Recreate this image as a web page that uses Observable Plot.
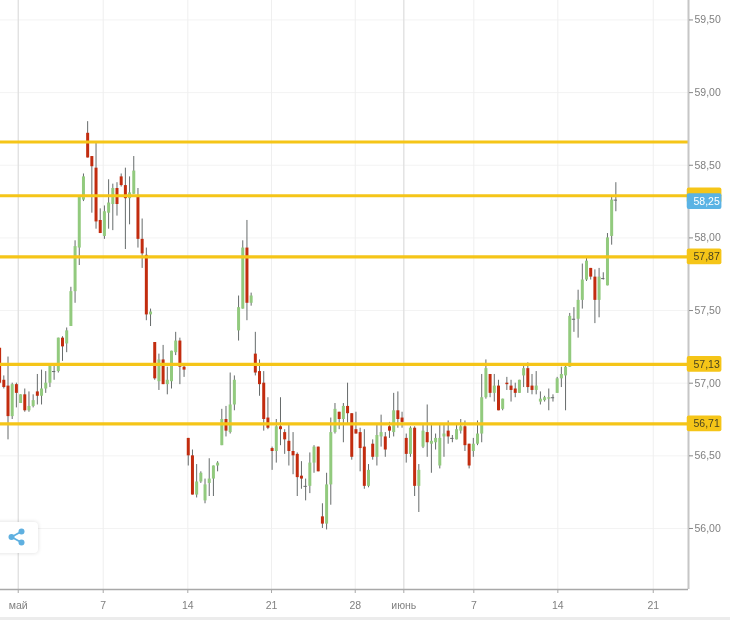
<!DOCTYPE html>
<html>
<head>
<meta charset="utf-8">
<script src="https://cdn.jsdelivr.net/npm/d3@7"></script>
<script src="https://cdn.jsdelivr.net/npm/@observablehq/plot@0.6"></script>
<style>
html,body{margin:0;padding:0;background:#fff;width:730px;height:620px;overflow:hidden;font-family:"Liberation Sans",Arial,sans-serif}
#wrap{position:relative;width:730px;height:620px}
#wrap svg.plot{display:block}
#strip{height:3px;background:#ececec}
#share{position:absolute;left:-6px;top:522px;width:44px;height:31px;background:#fff;border-radius:4px;box-shadow:0 0 4px rgba(0,0,0,.14)}
#share svg{position:absolute;left:13px;top:5px}
#chart{filter:blur(.3px)}
</style>
</head>
<body>
<div id="wrap"><div id="chart"></div><div id="strip"></div>
<div id="share"><svg width="20" height="20" viewBox="0 0 20 20"><g fill="#5fb0e0" stroke="#5fb0e0"><circle cx="4.5" cy="10" r="3" stroke="none"/><circle cx="14.5" cy="4.5" r="3" stroke="none"/><circle cx="14.5" cy="15.5" r="3" stroke="none"/><path d="M4.5 10L14.5 4.5M4.5 10L14.5 15.5" stroke-width="1.8" fill="none"/></g></svg></div>
</div>
<script>
const open = [57.24,57.02,56.98,56.77,56.99,56.86,56.92,56.81,56.84,56.94,56.91,56.96,57.00,57.08,57.08,57.31,57.27,57.39,57.63,57.93,58.26,58.72,58.56,58.48,58.12,58.01,58.17,58.23,58.34,58.42,58.36,58.27,58.30,58.29,57.99,57.88,57.47,57.28,57.01,57.16,56.99,
57.01,57.21,57.29,57.11,56.62,56.50,56.23,56.32,56.19,56.31,56.34,56.43,56.57,56.75,56.66,56.85,57.36,57.51,57.93,57.55,57.20,57.08,57.00,56.76,56.55,56.53,56.70,56.66,56.60,56.53,56.51,56.36,56.29,56.29,56.45,56.56,56.08,56.03,56.30,56.66,56.80,
56.75,56.84,56.79,56.68,56.66,56.56,56.29,56.58,56.49,56.63,56.63,56.70,56.66,56.81,56.76,56.62,56.51,56.69,56.29,56.56,56.66,56.58,56.59,56.43,56.63,56.67,56.62,56.61,56.67,56.70,56.58,56.53,56.58,56.65,56.90,
57.06,56.93,56.98,56.82,57.00,56.98,56.96,56.93,57.05,57.10,56.98,56.95,56.87,56.88,56.89,56.90,56.93,57.03,57.05,57.11,57.44,57.44,57.57,57.71,57.79,57.73,57.57,57.72,57.67,58.01,58.26];
const high = [57.24,57.05,57.18,57.00,57.00,56.92,56.96,56.94,56.92,57.06,57.09,57.08,57.13,57.12,57.31,57.32,57.38,57.66,57.98,58.28,58.44,58.80,58.56,58.65,58.20,58.22,58.40,58.37,58.38,58.44,58.48,58.42,58.56,58.34,58.13,57.93,57.51,57.28,57.20,57.26,57.11,
57.22,57.35,57.31,57.13,56.62,56.54,56.44,56.39,56.34,56.48,56.43,56.46,56.82,56.84,57.07,57.05,57.60,57.98,58.12,57.62,57.35,57.16,57.08,56.90,56.56,56.75,56.90,56.68,56.71,56.66,56.52,56.46,56.34,56.52,56.57,56.56,56.17,56.38,56.76,56.86,56.80,
56.86,57.00,56.79,56.80,56.69,56.68,56.44,56.61,56.71,56.78,56.66,56.73,56.93,56.94,56.80,56.65,56.70,56.70,56.44,56.71,56.85,56.71,56.65,56.72,56.72,56.74,56.64,56.72,56.75,56.74,56.58,56.62,56.74,57.06,57.16,
57.06,57.06,57.02,56.89,57.04,57.02,57.00,57.02,57.13,57.14,57.06,57.08,56.94,56.91,56.96,56.92,57.04,57.11,57.12,57.48,57.52,57.64,57.82,57.86,57.79,57.78,57.79,57.76,58.03,58.28,58.38];
const low = [56.99,56.96,56.61,56.75,56.83,56.86,56.80,56.80,56.83,56.85,56.85,56.93,56.97,57.02,57.07,57.15,57.21,57.39,57.55,57.81,58.25,58.55,58.17,58.06,58.03,57.99,58.06,58.05,58.15,58.35,57.92,58.09,58.30,57.93,57.79,57.43,57.39,57.02,56.95,56.99,56.92,
56.96,57.19,56.99,57.04,56.43,56.23,56.21,56.31,56.17,56.22,56.22,56.39,56.57,56.63,56.65,56.81,57.29,57.51,57.43,57.53,57.05,56.91,56.67,56.68,56.40,56.45,56.57,56.51,56.43,56.37,56.22,56.27,56.19,56.24,56.38,56.39,56.00,55.99,56.16,56.65,56.68,
56.59,56.72,56.47,56.65,56.39,56.27,56.28,56.47,56.43,56.56,56.49,56.62,56.63,56.69,56.69,56.45,56.49,56.22,56.11,56.55,56.49,56.38,56.54,56.41,56.49,56.58,56.59,56.61,56.65,56.53,56.41,56.49,56.57,56.59,56.89,
56.90,56.87,56.81,56.81,56.95,56.87,56.90,56.93,56.97,56.93,56.92,56.92,56.85,56.87,56.81,56.87,56.93,56.97,56.81,57.11,57.35,57.31,57.51,57.70,57.71,57.41,57.45,57.71,57.67,57.95,58.18];
const close = [57.00,56.97,56.77,56.99,56.93,56.92,56.81,56.84,56.88,56.91,56.96,57.00,57.12,57.08,57.31,57.25,57.36,57.63,57.94,58.28,58.42,58.55,58.49,58.11,58.03,58.18,58.24,58.34,58.23,58.36,58.27,58.31,58.46,57.99,57.89,57.47,57.49,57.03,57.16,56.99,57.02,
57.22,57.29,57.11,57.09,56.50,56.23,56.32,56.38,56.30,56.34,56.43,56.45,56.75,56.67,56.85,57.02,57.52,57.93,57.55,57.60,57.07,56.99,56.75,56.69,56.53,56.70,56.68,56.61,56.53,56.50,56.35,56.34,56.29,56.45,56.56,56.39,56.03,56.30,56.66,56.82,56.75,
56.84,56.79,56.49,56.65,56.55,56.29,56.40,56.49,56.64,56.66,56.54,56.67,56.81,56.75,56.73,56.51,56.69,56.29,56.40,56.67,56.59,56.60,56.62,56.62,56.65,56.63,56.62,56.68,56.70,56.57,56.43,56.58,56.65,56.90,57.10,
56.93,56.98,56.81,56.89,56.99,56.95,56.93,57.02,57.10,56.97,56.95,56.98,56.89,56.90,56.90,56.90,57.03,57.06,57.11,57.46,57.44,57.57,57.71,57.84,57.73,57.57,57.73,57.72,58.00,58.26,58.26];

const levels = [58.66, 58.29, 57.87, 57.13, 56.72];
const levelTags = [58.29, 57.87, 57.13, 56.72];
const levelTagLabels = ["", "57,87", "57,13", "56,71"];
const lastPrice = 58.25;
const lastPriceLabel = "58,25";
const priceTicks = [56, 56.5, 57, 57.5, 58, 58.5, 59, 59.5];
const xTicks = [4.44, 24.71, 44.89, 64.86, 84.83, 96.42, 113.12, 133.16, 155.92];
const xLabels = ["май", "7", "14", "21", "28", "июнь", "7", "14", "21"];
const monthTicks = [4.44, 96.42];

const xStart = 0.21, xEnd = 164.33, tagEnd = 172.3, yLow = 55.58, yHigh = 59.634, tagHalf = 0.054;
const candles = open.map((o, i) => ({i, open: o, high: high[i], low: low[i], close: close[i]}));
const bars = candles.filter(d => d.open !== d.close);
const dojis = candles.filter(d => d.open === d.close);
const RED = "#c22c0f", GREEN = "#92ca7e", GOLD = "#f5c518", WICK = "#666b6b";
const FONT = '"Liberation Sans",Arial,sans-serif';

const chart = Plot.plot({
  width: 730, height: 617,
  marginLeft: 0, marginRight: 42, marginTop: 0, marginBottom: 28,
  style: {fontFamily: FONT, fontSize: "10.5px", background: "#fff", overflow: "visible"},
  x: {type: "linear", domain: [xStart, xEnd], label: null},
  y: {domain: [yLow, yHigh], label: null},
  marks: [
    Plot.ruleY(priceTicks, {stroke: "#f3f3f3"}),
    Plot.ruleX(xTicks, {stroke: "#efefef"}),
    Plot.ruleX(monthTicks, {stroke: "#dcdcdc"}),
    Plot.ruleX(candles, {x: "i", y1: "low", y2: "high", stroke: WICK, strokeWidth: 1, clip: true}),
    Plot.ruleX(bars, {x: "i", y1: "open", y2: "close", stroke: d => d.close < d.open ? RED : GREEN, strokeWidth: 3, clip: true}),
    Plot.ruleY(dojis, {y: "open", x1: d => d.i - 0.4, x2: d => d.i + 0.4, stroke: WICK}),
    Plot.ruleY(levels, {x1: xStart, x2: xEnd, stroke: GOLD, strokeWidth: 3.2}),
    Plot.ruleX([xEnd], {stroke: "#c6c6c6", strokeWidth: 2}),
    Plot.ruleY([yLow], {x1: xStart, x2: xEnd, stroke: "#a8a8a8", strokeWidth: 1.5}),
    Plot.axisY(priceTicks, {anchor: "right", tickSize: 4, tickPadding: 2, stroke: "#8a8a8a", fill: "#808080", tickFormat: d => d.toFixed(2).replace(".", ","), label: null}),
    Plot.axisX(xTicks, {tickSize: 4, tickPadding: 8, stroke: "#a8a8a8", fill: "#808080", tickFormat: (d, i) => xLabels[i], label: null}),
    Plot.rect(levelTags, {x1: xEnd - 0.3, x2: tagEnd, y1: d => d - tagHalf, y2: d => d + tagHalf, fill: GOLD, rx: 2}),
    Plot.rect([lastPrice], {x1: xEnd - 0.3, x2: tagEnd, y1: d => d - tagHalf, y2: d => d + tagHalf, fill: "#5ab3e4", rx: 2}),
    Plot.text(levelTags, {x: xEnd, y: d => d, dx: 5, text: (d, i) => levelTagLabels[i], textAnchor: "start", fill: "#4a4420", fontSize: 10.5}),
    Plot.text([lastPrice], {x: xEnd, y: d => d, dx: 5, text: () => lastPriceLabel, textAnchor: "start", fill: "#fff", fontSize: 10.5})
  ]
});
document.getElementById("chart").appendChild(chart);
</script>
</body>
</html>
